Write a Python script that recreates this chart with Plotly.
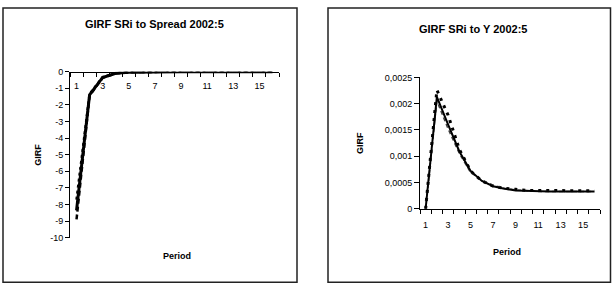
import plotly.graph_objects as go

W, H = 612, 292

periods = list(range(1, 17))

# Left chart: GIRF SRi to Spread
spread_girf = [-8.35, -1.4, -0.35, -0.1, -0.04, -0.02, -0.01, 0, 0, 0, 0, 0, 0, 0, 0, 0]
spread_upper = [-7.7, -1.35, -0.33, -0.09, -0.03, -0.015, -0.01, 0, 0, 0, 0, 0, 0, 0, 0, 0]
spread_lower = [-8.9, -1.45, -0.37, -0.11, -0.045, -0.02, -0.01, 0, 0, 0, 0, 0, 0, 0, 0, 0]

# Right chart: GIRF SRi to Y
y_girf = [0, 0.00213, 0.0016, 0.00109, 0.00072, 0.00053, 0.00043, 0.00038, 0.00035,
          0.00034, 0.00033, 0.00033, 0.00033, 0.00033, 0.00033, 0.00033]
y_upper = [0, 0.00226, 0.00178, 0.00113, 0.00072, 0.00053, 0.00043, 0.00039, 0.00037,
           0.00035, 0.00035, 0.00035, 0.00035, 0.00035, 0.00034, 0.00034]
y_lower = [0, 0.00205, 0.00152, 0.00105, 0.00069, 0.00054, 0.00045, 0.00039, 0.00036,
           0.00034, 0.00033, 0.00033, 0.00033, 0.00033, 0.00033, 0.00033]

x_tickvals = [1, 3, 5, 7, 9, 11, 13, 15]
x_ticktext = ["1", "3", "5", "7", "9", "11", "13", "15"]
left_yticks = [0, -1, -2, -3, -4, -5, -6, -7, -8, -9, -10]
left_yticktext = ["0", "-1", "-2", "-3", "-4", "-5", "-6", "-7", "-8", "-9", "-10"]
right_yticks = [0, 0.0005, 0.001, 0.0015, 0.002, 0.0025]
right_yticktext = ["0", "0,0005", "0,001", "0,0015", "0,002", "0,0025"]

FONT = "Liberation Sans, Arial, sans-serif"

fig = go.Figure()

fig.add_trace(go.Scatter(x=periods, y=spread_lower, mode="lines", xaxis="x", yaxis="y",
                         line=dict(color="black", width=2.5, dash="5px,3px"), showlegend=False))
fig.add_trace(go.Scatter(x=periods, y=spread_upper, mode="lines", xaxis="x", yaxis="y",
                         line=dict(color="black", width=2.5, dash="3px,3px"), showlegend=False))
fig.add_trace(go.Scatter(x=periods, y=spread_girf, mode="lines", xaxis="x", yaxis="y",
                         line=dict(color="black", width=3), showlegend=False))

fig.add_trace(go.Scatter(x=periods, y=y_upper, mode="lines", xaxis="x2", yaxis="y2",
                         line=dict(color="black", width=3, dash="3px,5px"), showlegend=False))
fig.add_trace(go.Scatter(x=periods, y=y_lower, mode="lines", xaxis="x2", yaxis="y2",
                         line=dict(color="#444444", width=1.5, dash="4px,3px"), showlegend=False))
fig.add_trace(go.Scatter(x=periods, y=y_girf, mode="lines", xaxis="x2", yaxis="y2",
                         line=dict(color="black", width=2), showlegend=False))

def px_x(p):
    return p / W

def px_y(p):
    return 1 - p / H

left_ydom = [px_y(241), px_y(69)]
right_ydom = [px_y(211), px_y(75)]

common_x = dict(range=[0.5, 16.5], tickvals=x_tickvals, ticktext=x_ticktext,
                showline=True, linecolor="black", linewidth=1, showgrid=False,
                zeroline=False, ticks="", fixedrange=True,
                tickfont=dict(family=FONT, size=9, color="black"),
                minor=dict(tick0=0.5, dtick=1, ticks="outside", ticklen=4,
                           tickcolor="black", showgrid=False))

def label(text, x, y, size, angle=0):
    return dict(text=text, x=px_x(x), y=px_y(y), textangle=angle,
                xref="paper", yref="paper", showarrow=False,
                xanchor="center", yanchor="middle",
                font=dict(family=FONT, size=size, color="black"))

fig.update_layout(
    width=W, height=H, autosize=False,
    margin=dict(l=0, r=0, t=0, b=0),
    paper_bgcolor="white", plot_bgcolor="white",
    font=dict(family=FONT, color="black"),
    xaxis=dict(domain=[px_x(70), px_x(279)], anchor="free", position=left_ydom[1],
               side="bottom", ticklabelstandoff=6, **common_x),
    yaxis=dict(domain=left_ydom, anchor="x", range=[-10, 0],
               tickvals=left_yticks, ticktext=left_yticktext,
               showline=True, linecolor="black", linewidth=1, showgrid=False, zeroline=False,
               ticks="outside", ticklen=4, tickcolor="black", fixedrange=True,
               tickfont=dict(family=FONT, size=9, color="black")),
    xaxis2=dict(domain=[px_x(420), px_x(600)], anchor="y2", ticklabelstandoff=7, **common_x),
    yaxis2=dict(domain=right_ydom, anchor="x2", range=[0, 0.0025],
                tickvals=right_yticks, ticktext=right_yticktext,
                showline=True, linecolor="black", linewidth=1, showgrid=False, zeroline=False,
                ticks="outside", ticklen=5, tickcolor="black", fixedrange=True,
                tickfont=dict(family=FONT, size=9, color="black")),
    shapes=[
        dict(type="rect", xref="paper", yref="paper",
             x0=px_x(3), x1=px_x(297), y0=px_y(287), y1=px_y(3),
             line=dict(color="#222222", width=1.5)),
        dict(type="rect", xref="paper", yref="paper",
             x0=px_x(328), x1=px_x(610.5), y0=px_y(287), y1=px_y(3),
             line=dict(color="#222222", width=1.5)),
    ],
    annotations=[
        label("<b>GIRF SRi to Spread 2002:5</b>", 154, 20, 11),
        label("<b>GIRF SRi to Y 2002:5</b>", 473, 25, 11),
        label("<b>GIRF</b>", 38, 155, 9, -90),
        label("<b>GIRF</b>", 360, 143, 9, -90),
        label("<b>Period</b>", 177, 260, 9),
        label("<b>Period</b>", 507, 256, 9),
    ],
)

fig.write_html("out.html", config={"displayModeBar": False, "staticPlot": True},
               post_script="document.body.style.margin='0';document.body.style.overflow='hidden';")
